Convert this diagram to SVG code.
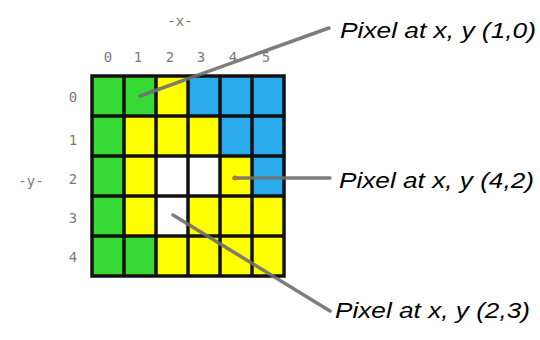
<svg xmlns="http://www.w3.org/2000/svg" width="540" height="340" viewBox="0 0 540 340">
<style>
.g{fill:#36d936}.y{fill:#ffff00}.b{fill:#2aabee}.w{fill:#ffffff}
.ax{font-family:"DejaVu Sans Mono","Liberation Mono",monospace;font-size:14px;fill:#7a7a7a;text-anchor:middle}
.lbl{font-family:"Liberation Sans",Arial,sans-serif;font-style:italic;font-size:22px;fill:#000}
.con{stroke:#6f6f6f;stroke-width:3.5;stroke-linecap:round;fill:none;opacity:0.9}
</style>
<rect width="540" height="340" fill="#fff"/>
<g id="axis-labels">
<text class="ax" x="180" y="26">-x-</text>
<text class="ax" x="108" y="62">0</text>
<text class="ax" x="138" y="62">1</text>
<text class="ax" x="170" y="62">2</text>
<text class="ax" x="201" y="62">3</text>
<text class="ax" x="233" y="62">4</text>
<text class="ax" x="266" y="62">5</text>
<text class="ax" x="73" y="102">0</text>
<text class="ax" x="73" y="145">1</text>
<text class="ax" x="73" y="184">2</text>
<text class="ax" x="73" y="223">3</text>
<text class="ax" x="73" y="262">4</text>
<text class="ax" x="31" y="186">-y-</text>
</g>
<g id="grid">
<rect class="g" x="92" y="76" width="32" height="40"/><rect class="g" x="124" y="76" width="32" height="40"/><rect class="y" x="156" y="76" width="32" height="40"/><rect class="b" x="188" y="76" width="32" height="40"/><rect class="b" x="220" y="76" width="32" height="40"/><rect class="b" x="252" y="76" width="32" height="40"/>
<rect class="g" x="92" y="116" width="32" height="40"/><rect class="y" x="124" y="116" width="32" height="40"/><rect class="y" x="156" y="116" width="32" height="40"/><rect class="y" x="188" y="116" width="32" height="40"/><rect class="b" x="220" y="116" width="32" height="40"/><rect class="b" x="252" y="116" width="32" height="40"/>
<rect class="g" x="92" y="156" width="32" height="40"/><rect class="y" x="124" y="156" width="32" height="40"/><rect class="w" x="156" y="156" width="32" height="40"/><rect class="w" x="188" y="156" width="32" height="40"/><rect class="y" x="220" y="156" width="32" height="40"/><rect class="b" x="252" y="156" width="32" height="40"/>
<rect class="g" x="92" y="196" width="32" height="40"/><rect class="y" x="124" y="196" width="32" height="40"/><rect class="w" x="156" y="196" width="32" height="40"/><rect class="y" x="188" y="196" width="32" height="40"/><rect class="y" x="220" y="196" width="32" height="40"/><rect class="y" x="252" y="196" width="32" height="40"/>
<rect class="g" x="92" y="236" width="32" height="40"/><rect class="g" x="124" y="236" width="32" height="40"/><rect class="y" x="156" y="236" width="32" height="40"/><rect class="y" x="188" y="236" width="32" height="40"/><rect class="y" x="220" y="236" width="32" height="40"/><rect class="y" x="252" y="236" width="32" height="40"/>
<path d="M92 76V276M124 76V276M156 76V276M188 76V276M220 76V276M252 76V276M284 76V276M92 76H284M92 116H284M92 156H284M92 196H284M92 236H284M92 276H284" stroke="#111" stroke-width="3.5" fill="none" stroke-linecap="square"/>
</g>
<g id="connectors">
<line class="con" x1="140" y1="96" x2="329" y2="28"/>
<line class="con" x1="234" y1="178" x2="330" y2="178"/>
<line class="con" x1="173" y1="215" x2="330" y2="311"/>
<circle cx="235" cy="178" r="2.5" fill="#b87040"/>
</g>
<g id="label-1-0"><text class="lbl" x="340" y="38" textLength="196" lengthAdjust="spacingAndGlyphs">Pixel at x, y (1,0)</text></g>
<g id="label-4-2"><text class="lbl" x="339" y="188" textLength="195" lengthAdjust="spacingAndGlyphs">Pixel at x, y (4,2)</text></g>
<g id="label-2-3"><text class="lbl" x="335" y="318" textLength="195" lengthAdjust="spacingAndGlyphs">Pixel at x, y (2,3)</text></g>
</svg>
